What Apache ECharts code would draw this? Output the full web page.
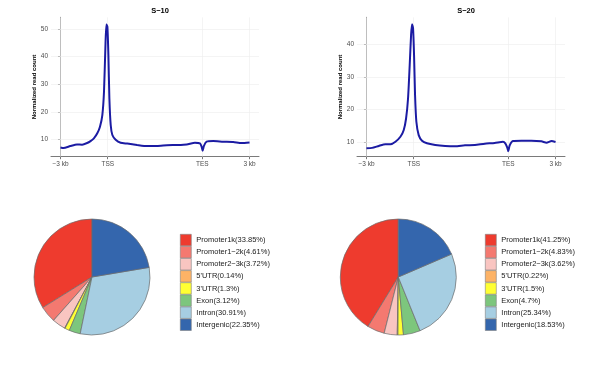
<!DOCTYPE html>
<html><head><meta charset="utf-8">
<script src="https://cdn.jsdelivr.net/npm/echarts@6/dist/echarts.min.js"></script>
<style>html,body{margin:0;padding:0;background:#fff}#c{width:600px;height:373px}</style>
</head><body><div id="c"></div>
<script>
// ---- data ----
const tickVals = [0, 100, 300, 400];
const tickLabels = ["\u22123 kb", "TSS", "TES", "3 kb"];
const yTicks10 = [10, 20, 30, 40, 50];
const yTicks20 = [10, 20, 30, 40];

const prof10X = [0, 6.4, 20.7, 35, 45.7, 56.4, 63.6, 70.7, 77.9, 83.6, 88.6, 92.1, 95, 97.1, 99.3, 101.4, 103.5, 106.3, 109.8, 116.8, 127.3, 141.3, 162.2, 183.2, 204.2, 225.2, 246.2, 267.1, 284.6, 295.1, 298.6, 300.7, 303.5, 309.2, 323.2, 344.3, 365.5, 383.1, 400];
const prof10Y = [7.2, 7.0, 7.7, 8.3, 8.2, 8.8, 9.5, 10.5, 12.3, 14.7, 18.9, 27.3, 43, 51.6, 50.8, 40.6, 24.9, 15.3, 11.7, 10, 8.9, 8.6, 8.1, 7.7, 7.7, 8.0, 8.1, 8.3, 8.9, 8.7, 7.5, 6.0, 7.8, 9.3, 9.5, 9.3, 9.2, 8.8, 9.0];

const prof20X = [0, 12, 26.1, 40.1, 50.7, 61.3, 71.8, 78.9, 83.8, 88, 91.5, 94.4, 96.5, 98.6, 100.7, 102.8, 105.6, 110.5, 117.5, 128, 145.5, 166.4, 187.4, 208.4, 229.4, 250.3, 271.3, 288.8, 293.7, 297.9, 300, 302.8, 309.9, 327.7, 348.9, 370.2, 380.9, 391.5, 400];
const prof20Y = [8.2, 8.3, 8.9, 9.4, 9.4, 10.2, 11.7, 13.8, 17.3, 23.5, 33.7, 42.9, 46.2, 44.9, 36.7, 24.5, 16.3, 12.2, 10.5, 9.7, 9.2, 8.9, 8.8, 9.1, 9.2, 9.6, 9.8, 10.2, 9.7, 8.4, 7.3, 9.0, 10.4, 10.5, 10.5, 10.3, 9.9, 10.4, 10.1];

const annoCats = ["Promoter1k", "Promoter1\u22122k", "Promoter2\u22123k", "5'UTR", "3'UTR", "Exon", "Intron", "Intergenic"];
const anno10 = [33.85, 4.61, 3.72, 0.14, 1.3, 3.12, 30.91, 22.35];
const anno20 = [41.25, 4.83, 3.62, 0.22, 1.5, 4.7, 25.34, 18.53];
const annoColors = ["#EE3B2E", "#F47970", "#F9C5C1", "#FDB366", "#FFFF33", "#7DC67D", "#A6CEE2", "#3466AD"];

// ---- build ----
const FONT = "Liberation Sans, Arial, sans-serif";
const zip = (xs, ys) => xs.map((x, i) => [x, ys[i]]);
const pieData = vals => vals.map((v, i) => ({
  name: annoCats[i] + "(" + v + "%)", value: v,
  itemStyle: { color: annoColors[i] }
}));
const labelFor = v => { const i = tickVals.indexOf(v); return i >= 0 ? tickLabels[i] : ""; };

function xAxisCfg(gi) {
  return {
    type: "value", gridIndex: gi, min: -20, max: 420,
    axisLine: { show: true, lineStyle: { color: "#7a7a7a", width: 1 } },
    axisTick: { show: true, customValues: tickVals, length: 2.5, lineStyle: { color: "#555", width: 0.8 } },
    axisLabel: { customValues: tickVals, formatter: labelFor, fontSize: 6.5, color: "#4d4d4d", margin: 4, fontFamily: FONT },
    splitLine: { show: false }
  };
}
function yAxisCfg(gi, mn, mx, ticks) {
  return {
    type: "value", gridIndex: gi, min: mn, max: mx,
    name: "Normalized read count", nameLocation: "middle", nameGap: 11,
    nameTextStyle: { fontSize: 6, fontWeight: "bold", color: "#000", fontFamily: FONT },
    axisLine: { show: true, lineStyle: { color: "#7a7a7a", width: 1 } },
    axisTick: { show: true, customValues: ticks, length: 2.5, lineStyle: { color: "#555", width: 0.8 } },
    axisLabel: { customValues: ticks, fontSize: 6.5, color: "#4d4d4d", margin: 3, fontFamily: FONT },
    splitLine: { show: false }
  };
}
function gridSeries(gi, xs, ys, yt) {
  return {
    type: "line", xAxisIndex: gi, yAxisIndex: gi, data: zip(xs, ys), z: 1,
    showSymbol: false, lineStyle: { opacity: 0 }, silent: true,
    markLine: {
      z: 1, silent: true, symbol: "none", label: { show: false },
      lineStyle: { color: "#ececec", width: 0.6, type: "solid" },
      data: tickVals.map(v => ({ xAxis: v })).concat(yt.map(v => ({ yAxis: v })))
    }
  };
}
function profSeries(gi, xs, ys) {
  return {
    type: "line", xAxisIndex: gi, yAxisIndex: gi, data: zip(xs, ys), z: 6,
    showSymbol: false, smooth: 0.2, lineStyle: { color: "#1b1ba3", width: 2 }
  };
}
function legendCfg(left, vals) {
  return {
    orient: "vertical", left: left, top: 234, padding: 0, itemWidth: 11, itemHeight: 11.5, itemGap: 0,
    icon: "rect", data: pieData(vals).map(d => d.name), selectedMode: false,
    itemStyle: { borderColor: "#808080", borderWidth: 0.6 },
    textStyle: { fontSize: 7.5, color: "#1a1a1a", fontFamily: FONT, padding: [0, 0, 0, 0] }
  };
}
function pieSeries(cx, vals) {
  return {
    type: "pie", center: [cx, 277], radius: 58, startAngle: 90, clockwise: false,
    label: { show: false }, labelLine: { show: false }, emphasis: { disabled: true },
    itemStyle: { borderColor: "#6b6b6b", borderWidth: 0.7 },
    data: pieData(vals)
  };
}

const chart = echarts.init(document.getElementById("c"), null, { renderer: "canvas" });
chart.setOption({
  animation: false,
  backgroundColor: "#fff",
  textStyle: { fontFamily: FONT },
  title: [
    { text: "S\u221210", left: 155, top: 2, textAlign: "center", textStyle: { fontSize: 7.5, fontWeight: "bold", color: "#000", fontFamily: FONT } },
    { text: "S\u221220", left: 461, top: 2, textAlign: "center", textStyle: { fontSize: 7.5, fontWeight: "bold", color: "#000", fontFamily: FONT } }
  ],
  grid: [
    { left: 51, right: 341, top: 17.3, bottom: 216.3 },
    { left: 357, right: 35, top: 17.3, bottom: 216.3 }
  ],
  xAxis: [xAxisCfg(0), xAxisCfg(1)],
  yAxis: [yAxisCfg(0, 3.86, 54.2, yTicks10), yAxisCfg(1, 5.6, 48.3, yTicks20)],
  legend: [legendCfg(180, anno10), legendCfg(485, anno20)],
  series: [
    gridSeries(0, prof10X, prof10Y, yTicks10),
    profSeries(0, prof10X, prof10Y),
    gridSeries(1, prof20X, prof20Y, yTicks20),
    profSeries(1, prof20X, prof20Y),
    pieSeries(92, anno10),
    pieSeries(398.3, anno20)
  ]
});
</script></body></html>
